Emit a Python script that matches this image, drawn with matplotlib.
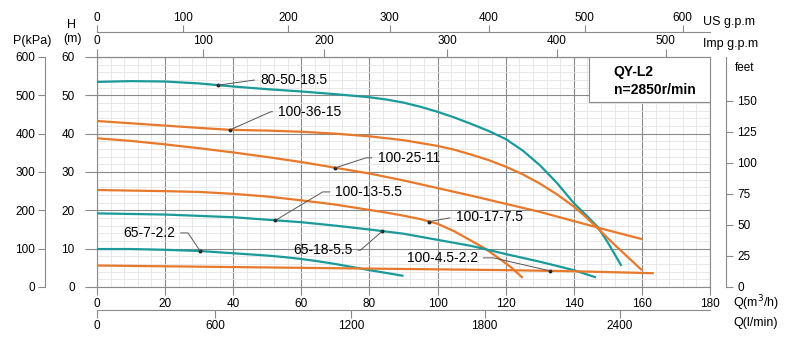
import matplotlib.pyplot as plt
import numpy as np
from matplotlib.patches import Rectangle

plt.rcParams["font.family"] = ["Liberation Sans", "DejaVu Sans"]

TEAL = "#1a9a9a"
ORANGE = "#e8782a"
GRID = "#8a8a8a"

# pump curves: Q (m3/h) -> H (m)
q_80_50 = [0, 10, 20, 30, 40, 50, 60, 70, 80, 85, 90, 95, 100, 105, 110, 115, 120, 125, 130, 135, 140, 144, 147, 150, 154]
h_80_50 = [53.5, 53.7, 53.6, 53.1, 52.3, 51.6, 51.0, 50.3, 49.5, 48.9, 48.1, 47.0, 45.7, 44.2, 42.5, 40.7, 38.6, 35.6, 31.8, 27.2, 21.9, 18.4, 15.7, 11.6, 5.5]

q_100_36 = [0, 10, 20, 30, 39, 50, 60, 70, 80, 90, 100, 105, 110, 115, 120, 125, 130, 135, 140, 143, 146, 149, 152, 156, 160]
h_100_36 = [43.3, 42.7, 42.1, 41.5, 41.0, 40.8, 40.5, 40.0, 39.3, 38.3, 36.8, 35.8, 34.5, 33.1, 31.4, 29.4, 27.0, 24.2, 21.0, 18.7, 16.2, 13.6, 11.0, 7.7, 4.4]

q_100_25 = [0, 10, 20, 30, 40, 50, 60, 70, 80, 90, 100, 110, 120, 130, 140, 150, 160]
h_100_25 = [38.8, 38.1, 37.2, 36.2, 35.1, 33.9, 32.6, 31.1, 29.6, 27.8, 25.8, 23.8, 21.7, 19.6, 17.2, 14.8, 12.5]

q_100_17 = [0, 20, 30, 40, 50, 60, 70, 80, 85, 90, 95, 100, 105, 110, 114, 118, 121.5, 125]
h_100_17 = [25.3, 25.0, 24.8, 24.3, 23.6, 22.6, 21.5, 20.1, 19.4, 18.6, 17.7, 16.5, 14.5, 12.0, 10.0, 7.5, 5.2, 2.4]

q_65_18 = [0, 20, 40, 60, 70, 80, 90, 100, 110, 120, 130, 140, 146.5]
h_65_18 = [19.2, 18.9, 18.2, 16.9, 16.0, 15.0, 13.9, 12.3, 10.7, 8.6, 6.6, 4.4, 2.5]

q_65_7 = [0, 10, 20, 30, 40, 50, 55, 60, 65, 70, 75, 80, 90]
h_65_7 = [9.9, 9.9, 9.7, 9.4, 8.8, 8.2, 7.8, 7.3, 6.7, 6.0, 5.2, 4.4, 2.9]

q_100_4 = [0, 20, 40, 60, 80, 100, 120, 140, 163.5]
h_100_4 = [5.6, 5.4, 5.2, 5.0, 4.8, 4.6, 4.4, 4.1, 3.6]

curves = [
    (q_80_50, h_80_50, TEAL),
    (q_100_36, h_100_36, ORANGE),
    (q_100_25, h_100_25, ORANGE),
    (q_100_17, h_100_17, ORANGE),
    (q_65_18, h_65_18, TEAL),
    (q_65_7, h_65_7, TEAL),
    (q_100_4, h_100_4, ORANGE),
]

# labels: text, curve index, Q of leader point, text position (Q, H), side, leader angle
labels = [
    ("80-50-18.5", 0, 35.6, (47.9, 54.0), "left", 8),
    ("100-36-15", 1, 39.1, (53.2, 45.7), "left", 24),
    ("100-25-11", 2, 70.0, (82.4, 33.7), "left", 18),
    ("100-13-5.5", 4, 52.4, (70.0, 24.8), "left", 31),
    ("65-18-5.5", 4, 83.8, (75.0, 9.6), "right", 41),
    ("65-7-2.2", 5, 30.3, (22.9, 14.1), "right", 124),
    ("100-17-7.5", 3, 97.6, (105.3, 18.3), "left", 10),
    ("100-4.5-2.2", 6, 133.0, (111.8, 7.6), "right", -13),
]

# secondary scales: tick labels and their positions in m3/h
us_gpm = [0, 100, 200, 300, 400, 500, 600]
us_gpm_q = [0, 25.3, 56.2, 85.9, 115.0, 143.2, 172.0]
imp_gpm = [0, 100, 200, 300, 400, 500]
imp_gpm_q = [0, 31.2, 66.8, 102.9, 135.0, 167.0]
l_min = [0, 600, 1200, 1800, 2400]
l_min_q = [0, 34.7, 74.7, 113.8, 153.5]
kpa_ticks = [0, 100, 200, 300, 400, 500, 600]
feet_ticks = [0, 25, 50, 75, 100, 125, 150]
FT_PER_M = 3.09

fig = plt.figure(figsize=(8, 3.4), dpi=100)
ax = fig.add_axes([0.12125, 0.1559, 0.76625, 0.6765])
ax.set_xlim(0, 180)
ax.set_ylim(0, 60)

ax.set_xticks(np.arange(0, 181, 20))
ax.set_yticks(np.arange(0, 61, 10))
ax.set_xticks(np.arange(0, 181, 4), minor=True)
ax.set_yticks(np.arange(0, 61, 2), minor=True)
ax.grid(which="minor", color="#e4e4e4", lw=0.6)
ax.grid(which="major", color=GRID, lw=0.8)
ax.set_axisbelow(True)
for s in ax.spines.values():
    s.set_color(GRID)
    s.set_linewidth(0.8)
ax.tick_params(axis="y", which="major", length=9, color=GRID, pad=7, labelsize=8.5)
ax.tick_params(axis="x", which="major", length=6, color=GRID, pad=2, labelsize=8.5)
ax.tick_params(which="minor", length=0)

for q, h, c in curves:
    ax.plot(q, h, color=c, lw=1.6, solid_capstyle="butt", solid_joinstyle="round", zorder=3)

for text, idx, qp, (tx, ty), side, ang in labels:
    q, h, _ = curves[idx]
    hp = np.interp(qp, q, h)
    ax.plot(qp, hp, "o", color="#222222", ms=1.8, zorder=4)
    relpos = (0, 0.5) if side == "left" else (1, 0.5)
    ax.annotate(
        text, xy=(qp, hp), xytext=(tx, ty),
        ha=side, va="center", fontsize=10, zorder=5,
        arrowprops=dict(arrowstyle="-", color="#555555", lw=0.7,
                        shrinkA=2, shrinkB=0, relpos=relpos,
                        connectionstyle=f"angle,angleA=0,angleB={ang},rad=0"),
    )

# model box
ax.add_patch(Rectangle((0.802, 0.804), 0.198, 0.196, transform=ax.transAxes,
                       facecolor="white", edgecolor=GRID, lw=0.8, zorder=5))
ax.text(0.843, 0.935, "QY-L2", transform=ax.transAxes, fontsize=10,
        fontweight="bold", va="center", zorder=6)
ax.text(0.843, 0.855, "n=2850r/min", transform=ax.transAxes, fontsize=10,
        fontweight="bold", va="center", zorder=6)

# Imp g.p.m on top spine
imp = ax.secondary_xaxis("top")
imp.set_xticks(imp_gpm_q, [str(v) for v in imp_gpm])
imp.tick_params(length=6, color=GRID, pad=1, labelsize=8.5)
imp.spines["top"].set_color(GRID)

# US g.p.m above
us = ax.secondary_xaxis(1.1087)
us.set_xticks(us_gpm_q, [str(v) for v in us_gpm])
us.tick_params(length=5, color=GRID, pad=1, labelsize=8.5)
us.spines["top"].set_color(GRID)

# l/min below
lm = ax.secondary_xaxis(-0.1)
lm.set_xticks(l_min_q, [str(v) for v in l_min])
lm.tick_params(length=6, color=GRID, pad=1, labelsize=8.5)
lm.spines["bottom"].set_color(GRID)

# P(kPa) on the far left
pk = ax.secondary_yaxis(-0.085, functions=(lambda h: h * 10, lambda p: p / 10))
pk.set_yticks(kpa_ticks)
pk.tick_params(length=5, color=GRID, pad=2, labelsize=8.5)
pk.spines["left"].set_color(GRID)

# feet on the right
ft = ax.secondary_yaxis(1.026, functions=(lambda h: h * FT_PER_M, lambda f: f / FT_PER_M))
ft.set_yticks(feet_ticks)
ft.tick_params(length=5, color=GRID, pad=3, labelsize=8.5)
ft.spines["right"].set_color(GRID)

fig.text(32 / 800, 1 - 41 / 340, "P(kPa)", ha="center", va="center", fontsize=9)
fig.text(72 / 800, 1 - 25 / 340, "H", ha="center", va="center", fontsize=9)
fig.text(72 / 800, 1 - 39 / 340, "(m)", ha="center", va="center", fontsize=9)
fig.text(703 / 800, 1 - 22 / 340, "US g.p.m", ha="left", va="center", fontsize=9)
fig.text(703 / 800, 1 - 44 / 340, "Imp g.p.m", ha="left", va="center", fontsize=9)
fig.text(735 / 800, 1 - 68 / 340, "feet", ha="left", va="center", fontsize=8.5)
fig.text(733 / 800, 1 - 303 / 340, "Q(m$^3$/h)", ha="left", va="center", fontsize=9)
fig.text(733 / 800, 1 - 323 / 340, "Q(l/min)", ha="left", va="center", fontsize=9)

fig.savefig("out.png", dpi=100)
